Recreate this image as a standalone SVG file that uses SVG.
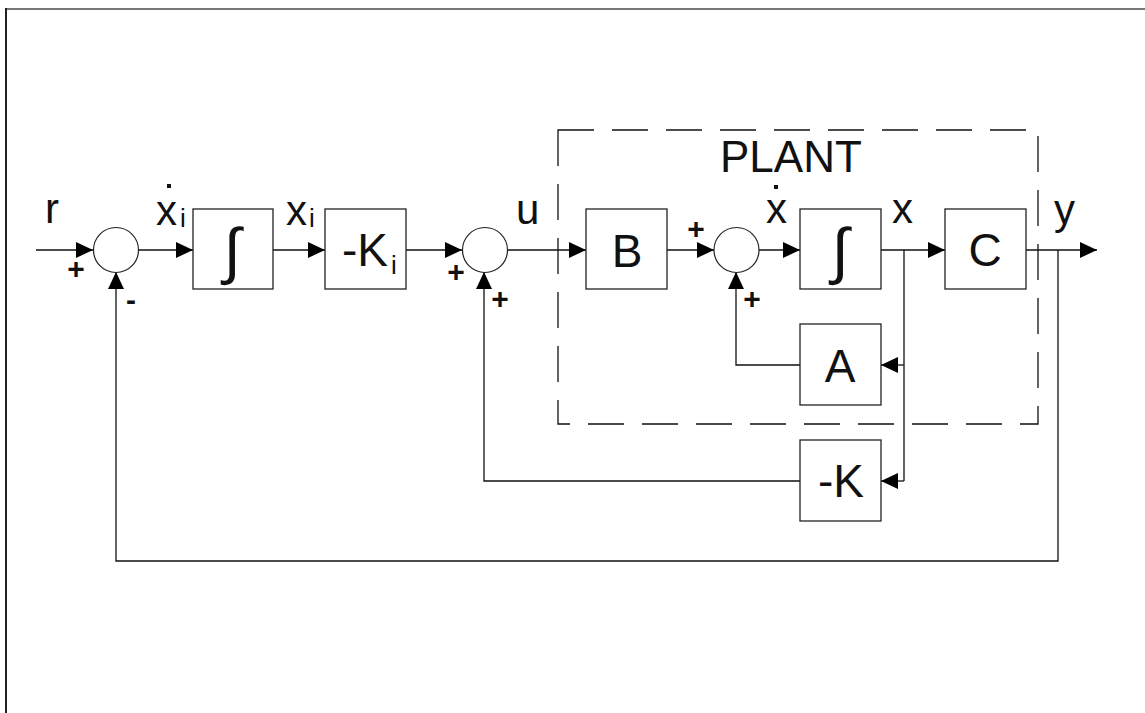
<svg xmlns="http://www.w3.org/2000/svg" width="1145" height="713" viewBox="0 0 1145 713">
<style>
  .blk{fill:#fff;stroke:#222;stroke-width:1.3}
  .sum{fill:#fff;stroke:#222;stroke-width:1.2}
  .ln{fill:none;stroke:#111;stroke-width:1.3}
  .t{font-family:"Liberation Sans",Arial,sans-serif;fill:#111}
  .lbl{font-size:42px}
  .bx{font-size:46px;text-anchor:middle}
  .sub{font-size:26px}
  .sgn{font-size:30px;font-weight:bold;text-anchor:middle}
  .int{font-size:62px;text-anchor:middle}
</style>
<defs>
  <marker id="ah" markerUnits="userSpaceOnUse" markerWidth="17" markerHeight="16" viewBox="0 0 17 16" refX="17" refY="8" orient="auto">
    <path d="M0,0 L17,8 L0,16 z" fill="#000"/>
  </marker>
</defs>
<rect x="0" y="0" width="1145" height="713" fill="#fff"/>
<g id="frame">
  <line x1="6" y1="9" x2="1145" y2="9" stroke="#777" stroke-width="2"/>
  <line x1="6" y1="8" x2="6" y2="713" stroke="#222" stroke-width="2"/>
</g>
<g id="plant">
  <rect x="558" y="130" width="480" height="294" fill="none" stroke="#111" stroke-width="1.3" stroke-dasharray="36 18"/>
  <text class="t" x="720" y="172" font-size="44">PLANT</text>
</g>
<g id="connectors">
  <path class="ln" d="M36,250 H93" marker-end="url(#ah)"/>
  <path class="ln" d="M138,250 H193" marker-end="url(#ah)"/>
  <path class="ln" d="M273,250 H325" marker-end="url(#ah)"/>
  <path class="ln" d="M406,250 H462" marker-end="url(#ah)"/>
  <path class="ln" d="M507,250 H586" marker-end="url(#ah)"/>
  <path class="ln" d="M667,250 H714" marker-end="url(#ah)"/>
  <path class="ln" d="M759,250 H800" marker-end="url(#ah)"/>
  <path class="ln" d="M881,250 H945" marker-end="url(#ah)"/>
  <path class="ln" d="M1026,250 H1097" marker-end="url(#ah)"/>
  <path class="ln" d="M904,250 V481"/>
  <path class="ln" d="M904,365 H881" marker-end="url(#ah)"/>
  <path class="ln" d="M904,481 H881" marker-end="url(#ah)"/>
  <path class="ln" d="M800,365 H736 V272" marker-end="url(#ah)"/>
  <path class="ln" d="M800,481 H484 V272" marker-end="url(#ah)"/>
  <path class="ln" d="M1058,250 V561 H116 V272" marker-end="url(#ah)"/>
</g>
<g id="sum1">
  <circle class="sum" cx="116" cy="250" r="22.5"/>
  <text class="t sgn" x="76" y="279">+</text>
  <text class="t sgn" x="131" y="310">-</text>
</g>
<g id="int1">
  <rect class="blk" x="193" y="209" width="80" height="80"/>
  <text class="t int" x="232" y="272">∫</text>
</g>
<g id="gainKi">
  <rect class="blk" x="325" y="209" width="81" height="80"/>
  <text class="t" x="342" y="266" font-size="46">-K</text>
  <text class="t sub" x="391" y="274">i</text>
</g>
<g id="sum2">
  <circle class="sum" cx="485" cy="250" r="22.5"/>
  <text class="t sgn" x="456" y="282">+</text>
  <text class="t sgn" x="500" y="309">+</text>
</g>
<g id="B">
  <rect class="blk" x="586" y="209" width="81" height="80"/>
  <text class="t bx" x="627" y="267">B</text>
</g>
<g id="sum3">
  <circle class="sum" cx="736.5" cy="250" r="22.5"/>
  <text class="t sgn" x="696" y="239">+</text>
  <text class="t sgn" x="752" y="309">+</text>
</g>
<g id="int2">
  <rect class="blk" x="800" y="209" width="81" height="80"/>
  <text class="t int" x="840" y="272">∫</text>
</g>
<g id="C">
  <rect class="blk" x="945" y="209" width="81" height="80"/>
  <text class="t bx" x="985" y="266">C</text>
</g>
<g id="A">
  <rect class="blk" x="800" y="324" width="81" height="81"/>
  <text class="t bx" x="840" y="382">A</text>
</g>
<g id="gainK">
  <rect class="blk" x="800" y="440" width="81" height="81"/>
  <text class="t bx" x="841" y="497">-K</text>
</g>
<g id="labels">
  <text class="t lbl" x="45" y="223">r</text>
  <text class="t lbl" x="156" y="225">x</text>
  <rect x="167" y="184" width="4" height="4" fill="#111"/>
  <text class="t sub" x="180" y="227">i</text>
  <text class="t lbl" x="286" y="225">x</text>
  <text class="t sub" x="309" y="227">i</text>
  <text class="t lbl" x="516" y="224">u</text>
  <text class="t lbl" x="766" y="223">x</text>
  <rect x="774" y="185" width="4" height="4" fill="#111"/>
  <text class="t lbl" x="892" y="223">x</text>
  <text class="t lbl" x="1054" y="224">y</text>
</g>
</svg>
